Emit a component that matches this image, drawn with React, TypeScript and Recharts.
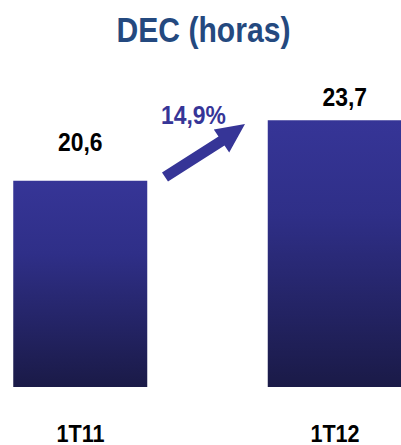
import React from "react";
import { BarChart, Bar, XAxis, YAxis, LabelList } from "recharts";

const categories = ["1T11", "1T12"];
const decValues = [20.6, 23.7];
const valueLabels = ["20,6", "23,7"];
const changeLabel = "14,9%";
const titleText = "DEC (horas)";

const data = categories.map((c, i) => ({ name: c, value: decValues[i], label: valueLabels[i] }));

const FONT = "'Liberation Sans', Arial, sans-serif";
const NARROW = 0.86;
const labelOffsets = [30, 14];
const labelDx = [0, 10];

const NarrowText = ({ x, y, size, color, children, narrow = NARROW }: any) => (
  <text
    transform={`translate(${x},${y}) scale(${narrow},1)`}
    x={0}
    y={0}
    textAnchor="middle"
    fontFamily={FONT}
    fontWeight="bold"
    fontSize={size}
    fill={color}
  >
    {children}
  </text>
);

const ValueLabel = (props: any) => {
  const { x, y, width, index } = props;
  return (
    <NarrowText
      x={Number(x) + Number(width) / 2 + labelDx[index]}
      y={Number(y) - labelOffsets[index]}
      size={26}
      narrow={0.88}
      color="#000"
    >
      {valueLabels[index]}
    </NarrowText>
  );
};

const CategoryTick = (props: any) => {
  const { x, y, payload } = props;
  return (
    <NarrowText x={Number(x)} y={Number(y) + 16.5} size={24} narrow={0.9} color="#000">
      {payload.value}
    </NarrowText>
  );
};

export default function App() {
  return (
    <div style={{ position: "relative", width: 401, height: 445, overflow: "hidden", background: "#fff" }}>
      <style>{"body{margin:0}"}</style>
      <div style={{ position: "absolute", left: -100, top: 0 }}>
        <BarChart
          width={600}
          height={445}
          data={data}
          margin={{ top: 95, right: 37.75, bottom: 0, left: 53.25 }}
          barCategoryGap={0}
        >
          <defs>
            <linearGradient id="barGrad" x1="0" y1="0" x2="0" y2="1">
              <stop offset="0%" stopColor="#363597" />
              <stop offset="35%" stopColor="#2f2f88" />
              <stop offset="100%" stopColor="#1a1a47" />
            </linearGradient>
          </defs>
          <XAxis
            dataKey="name"
            axisLine={false}
            tickLine={false}
            tickSize={0}
            tickMargin={38}
            height={58}
            interval={0}
            tick={<CategoryTick />}
          />
          <YAxis hide domain={[10, 25]} type="number" />
          <Bar dataKey="value" fill="url(#barGrad)" barSize={134} isAnimationActive={false}>
            <LabelList dataKey="label" content={<ValueLabel />} />
          </Bar>
        </BarChart>
      </div>
      <svg
        width={401}
        height={445}
        style={{ position: "absolute", left: 0, top: 0, pointerEvents: "none" }}
      >
        <NarrowText x={203.5} y={42} size={35} color="#24497f">
          {titleText}
        </NarrowText>
        <NarrowText x={193.5} y={124} size={26} narrow={0.88} color="#363597">
          {changeLabel}
        </NarrowText>
        <polygon
          points="162,172.4 218.5,136.4 213.8,129.4 245,124 229.2,152.6 224.5,145.6 168,181.6"
          fill="#363597"
        />
      </svg>
    </div>
  );
}
